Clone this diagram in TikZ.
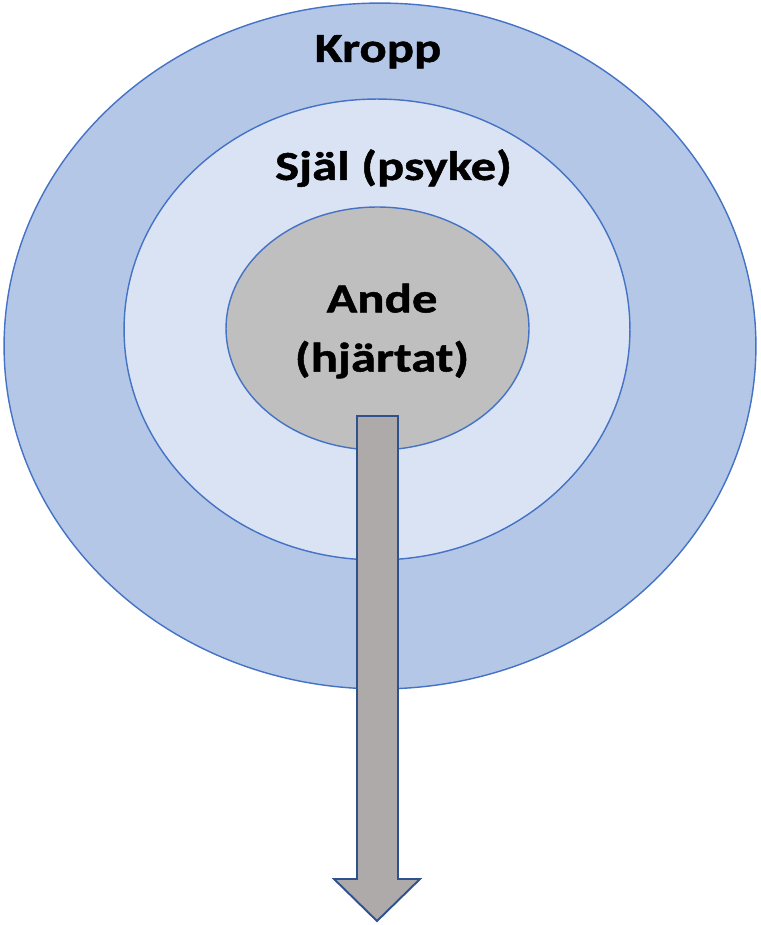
\documentclass[tikz,border=0pt]{standalone}
\usepackage{fontspec}
\setmainfont{Carlito}[FakeStretch=1.23, BoldFeatures={FakeBold=1.2}]
\usepackage{tikz}
\usetikzlibrary{shapes.geometric, positioning, calc}
\usepackage{xcolor}

\definecolor{bodyblue}{HTML}{B4C7E7}
\definecolor{soulblue}{HTML}{DAE3F3}
\definecolor{spiritgray}{HTML}{BFBFBF}
\definecolor{rimblue}{HTML}{4472C4}
\definecolor{arrowgray}{HTML}{AEAAAA}
\definecolor{arrowrim}{HTML}{2F528F}

\begin{document}
\begin{tikzpicture}[
    x=0.02cm, y=-0.02cm,
    layer/.style={ellipse, draw=rimblue, line width=0.8pt, inner sep=0pt},
    title/.style={font=\fontsize{23.5}{33.6}\selectfont\bfseries, align=center, inner sep=0pt},
    outflow/.style={draw=arrowrim, fill=arrowgray, line width=1.1pt, line join=miter}
]
\useasboundingbox (0,0) rectangle (760,925);

% === Layers ===
\node[layer, fill=bodyblue, minimum width=15.04cm, minimum height=13.72cm] (kropp) at (380,346) {};
\node[layer, fill=soulblue, minimum width=10.12cm, minimum height=9.22cm] (sjal) at (377,329.5) {};
\node[layer, fill=spiritgray, minimum width=6.06cm, minimum height=4.86cm] (ande) at (377.5,328.5) {};

% === Labels ===
\node[title, anchor=base] (kropplbl) at (378,62) {Kropp};
\node[title, anchor=base] (sjallbl) at (393.5,180) {Själ (psyke)};
\node[title] (andelbl) at (382,331) {Ande\\(hjärtat)};

% === Downward arrow ===
\coordinate (shaftl) at (357,416);
\coordinate (shaftr) at (398,416);
\coordinate (tip) at (377,921);
\draw[outflow] (shaftl) -- (shaftr) -- (398,879) -- (420,879) -- (tip)
    -- (334,879) -- (357,879) -- cycle;

\end{tikzpicture}
\end{document}
